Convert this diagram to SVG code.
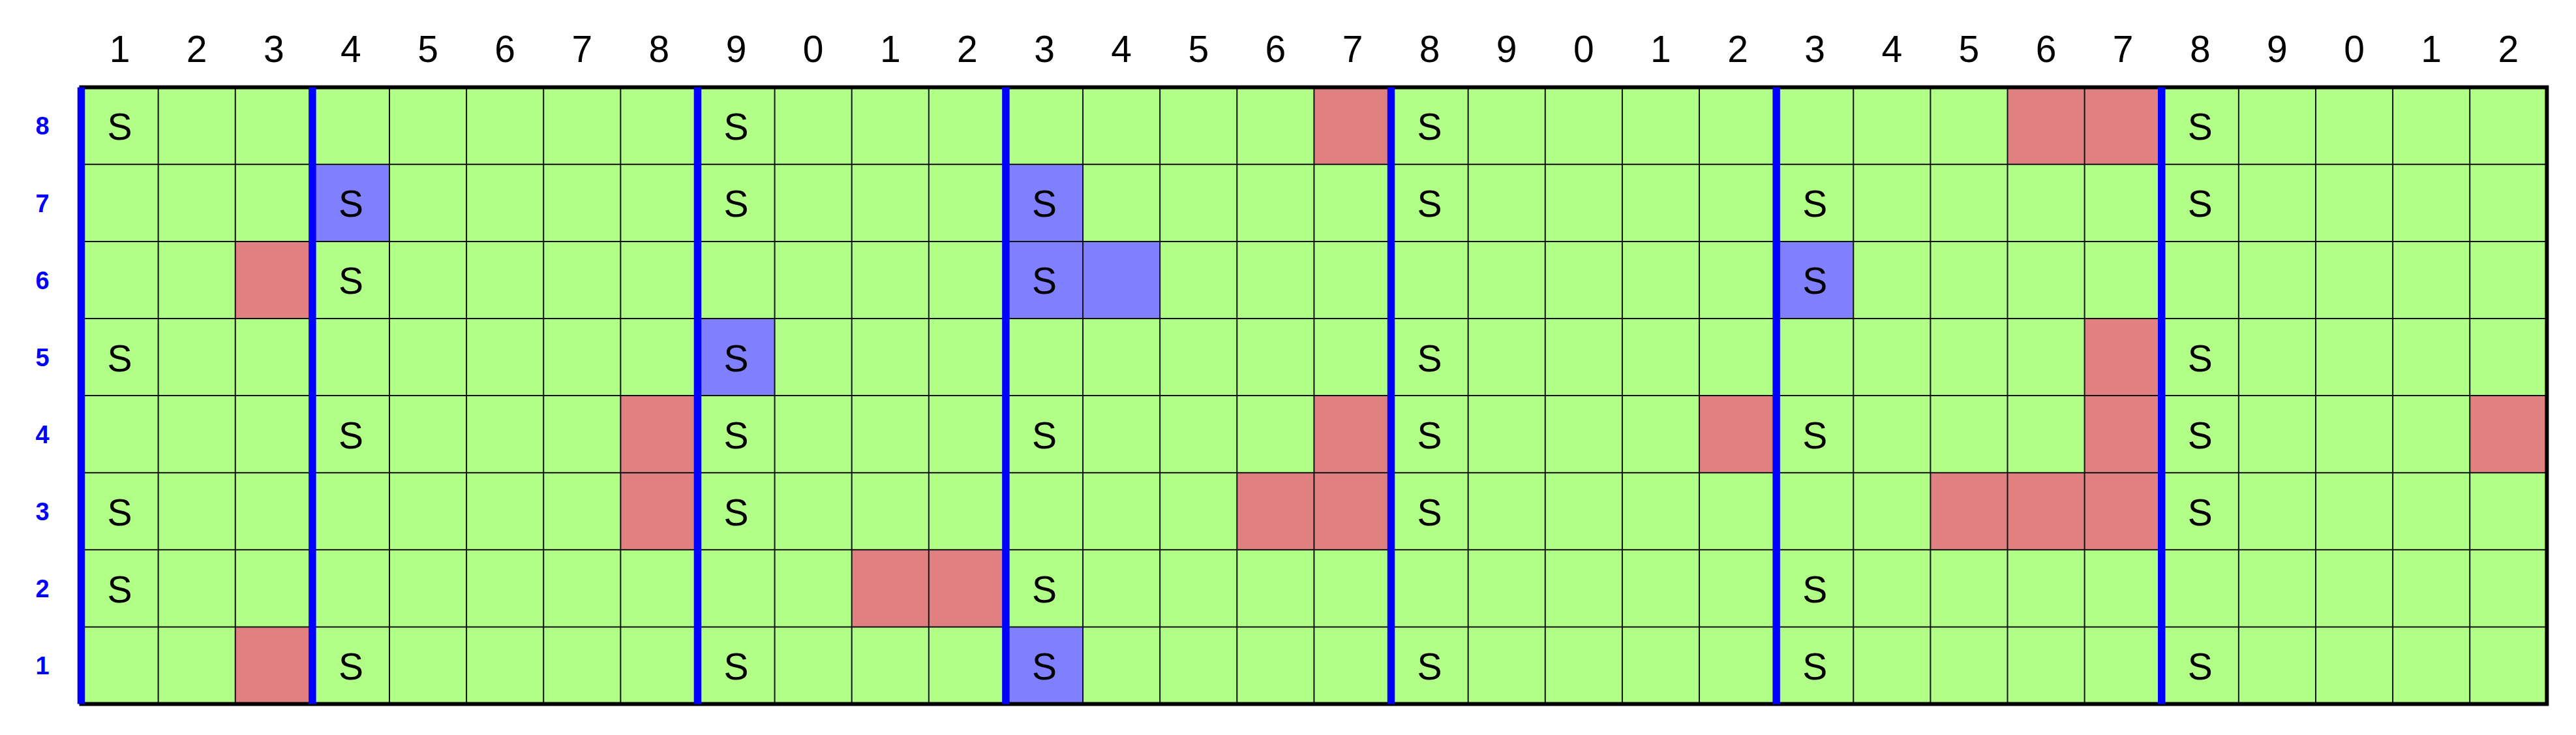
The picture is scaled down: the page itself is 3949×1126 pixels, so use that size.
<svg xmlns="http://www.w3.org/2000/svg" width="3949" height="1126" viewBox="0 0 3949 1126">
<style>
.bg{fill:#b2ff88}
.r{fill:#e08080}
.b{fill:#8080ff}
.grid{stroke:#111;stroke-width:2;fill:none}
.border{stroke:#000;stroke-width:6;fill:none}
.sep{stroke:#0000ff;stroke-width:11.5}
.s{font-family:"Liberation Sans",Arial,sans-serif;font-size:57px;fill:#000;text-anchor:middle}
.cl{font-family:"Liberation Sans",Arial,sans-serif;font-size:57px;fill:#000;text-anchor:middle}
.rl{font-family:"Liberation Sans",Arial,sans-serif;font-size:38px;font-weight:bold;fill:#0000ff;text-anchor:middle}
</style>
<rect x="0" y="0" width="3949" height="1126" fill="#fff"/>
<g id="col-labels">
<text class="cl" x="183.56" y="95">1</text>
<text class="cl" x="301.68" y="95">2</text>
<text class="cl" x="419.8" y="95">3</text>
<text class="cl" x="537.92" y="95">4</text>
<text class="cl" x="656.04" y="95">5</text>
<text class="cl" x="774.16" y="95">6</text>
<text class="cl" x="892.28" y="95">7</text>
<text class="cl" x="1010.4" y="95">8</text>
<text class="cl" x="1128.52" y="95">9</text>
<text class="cl" x="1246.64" y="95">0</text>
<text class="cl" x="1364.76" y="95">1</text>
<text class="cl" x="1482.88" y="95">2</text>
<text class="cl" x="1601" y="95">3</text>
<text class="cl" x="1719.12" y="95">4</text>
<text class="cl" x="1837.24" y="95">5</text>
<text class="cl" x="1955.36" y="95">6</text>
<text class="cl" x="2073.48" y="95">7</text>
<text class="cl" x="2191.6" y="95">8</text>
<text class="cl" x="2309.72" y="95">9</text>
<text class="cl" x="2427.84" y="95">0</text>
<text class="cl" x="2545.96" y="95">1</text>
<text class="cl" x="2664.08" y="95">2</text>
<text class="cl" x="2782.2" y="95">3</text>
<text class="cl" x="2900.32" y="95">4</text>
<text class="cl" x="3018.44" y="95">5</text>
<text class="cl" x="3136.56" y="95">6</text>
<text class="cl" x="3254.68" y="95">7</text>
<text class="cl" x="3372.8" y="95">8</text>
<text class="cl" x="3490.92" y="95">9</text>
<text class="cl" x="3609.04" y="95">0</text>
<text class="cl" x="3727.16" y="95">1</text>
<text class="cl" x="3845.28" y="95">2</text>
</g>
<g id="row-labels">
<text class="rl" x="65" y="206.4">8</text>
<text class="rl" x="65" y="324.5">7</text>
<text class="rl" x="65" y="442.6">6</text>
<text class="rl" x="65" y="560.7">5</text>
<text class="rl" x="65" y="678.8">4</text>
<text class="rl" x="65" y="796.9">3</text>
<text class="rl" x="65" y="915">2</text>
<text class="rl" x="65" y="1033.1">1</text>
</g>
<g id="cells">
<rect class="bg" x="124.5" y="133.7" width="3779.84" height="944.8"/>
<!-- row 8 -->
<g id="row8">
<rect class="r" x="2014.42" y="133.7" width="118.12" height="118.1"/>
<rect class="r" x="3077.5" y="133.7" width="118.12" height="118.1"/>
<rect class="r" x="3195.62" y="133.7" width="118.12" height="118.1"/>
</g>
<!-- row 7 -->
<g id="row7">
<rect class="b" x="478.86" y="251.8" width="118.12" height="118.1"/>
<rect class="b" x="1541.94" y="251.8" width="118.12" height="118.1"/>
</g>
<!-- row 6 -->
<g id="row6">
<rect class="r" x="360.74" y="369.9" width="118.12" height="118.1"/>
<rect class="b" x="1541.94" y="369.9" width="118.12" height="118.1"/>
<rect class="b" x="1660.06" y="369.9" width="118.12" height="118.1"/>
<rect class="b" x="2723.14" y="369.9" width="118.12" height="118.1"/>
</g>
<!-- row 5 -->
<g id="row5">
<rect class="b" x="1069.46" y="488" width="118.12" height="118.1"/>
<rect class="r" x="3195.62" y="488" width="118.12" height="118.1"/>
</g>
<!-- row 4 -->
<g id="row4">
<rect class="r" x="951.34" y="606.1" width="118.12" height="118.1"/>
<rect class="r" x="2014.42" y="606.1" width="118.12" height="118.1"/>
<rect class="r" x="2605.02" y="606.1" width="118.12" height="118.1"/>
<rect class="r" x="3195.62" y="606.1" width="118.12" height="118.1"/>
<rect class="r" x="3786.22" y="606.1" width="118.12" height="118.1"/>
</g>
<!-- row 3 -->
<g id="row3">
<rect class="r" x="951.34" y="724.2" width="118.12" height="118.1"/>
<rect class="r" x="1896.3" y="724.2" width="118.12" height="118.1"/>
<rect class="r" x="2014.42" y="724.2" width="118.12" height="118.1"/>
<rect class="r" x="2959.38" y="724.2" width="118.12" height="118.1"/>
<rect class="r" x="3077.5" y="724.2" width="118.12" height="118.1"/>
<rect class="r" x="3195.62" y="724.2" width="118.12" height="118.1"/>
</g>
<!-- row 2 -->
<g id="row2">
<rect class="r" x="1305.7" y="842.3" width="118.12" height="118.1"/>
<rect class="r" x="1423.82" y="842.3" width="118.12" height="118.1"/>
</g>
<!-- row 1 -->
<g id="row1">
<rect class="r" x="360.74" y="960.4" width="118.12" height="118.1"/>
<rect class="b" x="1541.94" y="960.4" width="118.12" height="118.1"/>
</g>
</g>
<g id="gridlines">
<path class="grid" d="M242.62 133.7V1078.5M360.74 133.7V1078.5M478.86 133.7V1078.5M596.98 133.7V1078.5M715.1 133.7V1078.5M833.22 133.7V1078.5M951.34 133.7V1078.5M1069.46 133.7V1078.5M1187.58 133.7V1078.5M1305.7 133.7V1078.5M1423.82 133.7V1078.5M1541.94 133.7V1078.5M1660.06 133.7V1078.5M1778.18 133.7V1078.5M1896.3 133.7V1078.5M2014.42 133.7V1078.5M2132.54 133.7V1078.5M2250.66 133.7V1078.5M2368.78 133.7V1078.5M2486.9 133.7V1078.5M2605.02 133.7V1078.5M2723.14 133.7V1078.5M2841.26 133.7V1078.5M2959.38 133.7V1078.5M3077.5 133.7V1078.5M3195.62 133.7V1078.5M3313.74 133.7V1078.5M3431.86 133.7V1078.5M3549.98 133.7V1078.5M3668.1 133.7V1078.5M3786.22 133.7V1078.5"/>
<path class="grid" d="M124.5 251.8H3904.34M124.5 369.9H3904.34M124.5 488H3904.34M124.5 606.1H3904.34M124.5 724.2H3904.34M124.5 842.3H3904.34M124.5 960.4H3904.34"/>
<rect class="border" x="124.5" y="133.7" width="3779.84" height="944.8"/>
</g>
<g id="separators">
<line class="sep" x1="124.5" y1="133.7" x2="124.5" y2="1078.5"/>
<line class="sep" x1="478.86" y1="133.7" x2="478.86" y2="1078.5"/>
<line class="sep" x1="1069.46" y1="133.7" x2="1069.46" y2="1078.5"/>
<line class="sep" x1="1541.94" y1="133.7" x2="1541.94" y2="1078.5"/>
<line class="sep" x1="2132.54" y1="133.7" x2="2132.54" y2="1078.5"/>
<line class="sep" x1="2723.14" y1="133.7" x2="2723.14" y2="1078.5"/>
<line class="sep" x1="3313.74" y1="133.7" x2="3313.74" y2="1078.5"/>
</g>
<g id="s-labels">
<!-- row 8 -->
<text class="s" x="183.56" y="214.2">S</text>
<text class="s" x="1128.52" y="214.2">S</text>
<text class="s" x="2191.6" y="214.2">S</text>
<text class="s" x="3372.8" y="214.2">S</text>
<!-- row 7 -->
<text class="s" x="537.92" y="332.3">S</text>
<text class="s" x="1128.52" y="332.3">S</text>
<text class="s" x="1601" y="332.3">S</text>
<text class="s" x="2191.6" y="332.3">S</text>
<text class="s" x="2782.2" y="332.3">S</text>
<text class="s" x="3372.8" y="332.3">S</text>
<!-- row 6 -->
<text class="s" x="537.92" y="450.4">S</text>
<text class="s" x="1601" y="450.4">S</text>
<text class="s" x="2782.2" y="450.4">S</text>
<!-- row 5 -->
<text class="s" x="183.56" y="568.5">S</text>
<text class="s" x="1128.52" y="568.5">S</text>
<text class="s" x="2191.6" y="568.5">S</text>
<text class="s" x="3372.8" y="568.5">S</text>
<!-- row 4 -->
<text class="s" x="537.92" y="686.6">S</text>
<text class="s" x="1128.52" y="686.6">S</text>
<text class="s" x="1601" y="686.6">S</text>
<text class="s" x="2191.6" y="686.6">S</text>
<text class="s" x="2782.2" y="686.6">S</text>
<text class="s" x="3372.8" y="686.6">S</text>
<!-- row 3 -->
<text class="s" x="183.56" y="804.7">S</text>
<text class="s" x="1128.52" y="804.7">S</text>
<text class="s" x="2191.6" y="804.7">S</text>
<text class="s" x="3372.8" y="804.7">S</text>
<!-- row 2 -->
<text class="s" x="183.56" y="922.8">S</text>
<text class="s" x="1601" y="922.8">S</text>
<text class="s" x="2782.2" y="922.8">S</text>
<!-- row 1 -->
<text class="s" x="537.92" y="1040.9">S</text>
<text class="s" x="1128.52" y="1040.9">S</text>
<text class="s" x="1601" y="1040.9">S</text>
<text class="s" x="2191.6" y="1040.9">S</text>
<text class="s" x="2782.2" y="1040.9">S</text>
<text class="s" x="3372.8" y="1040.9">S</text>
</g>
</svg>
